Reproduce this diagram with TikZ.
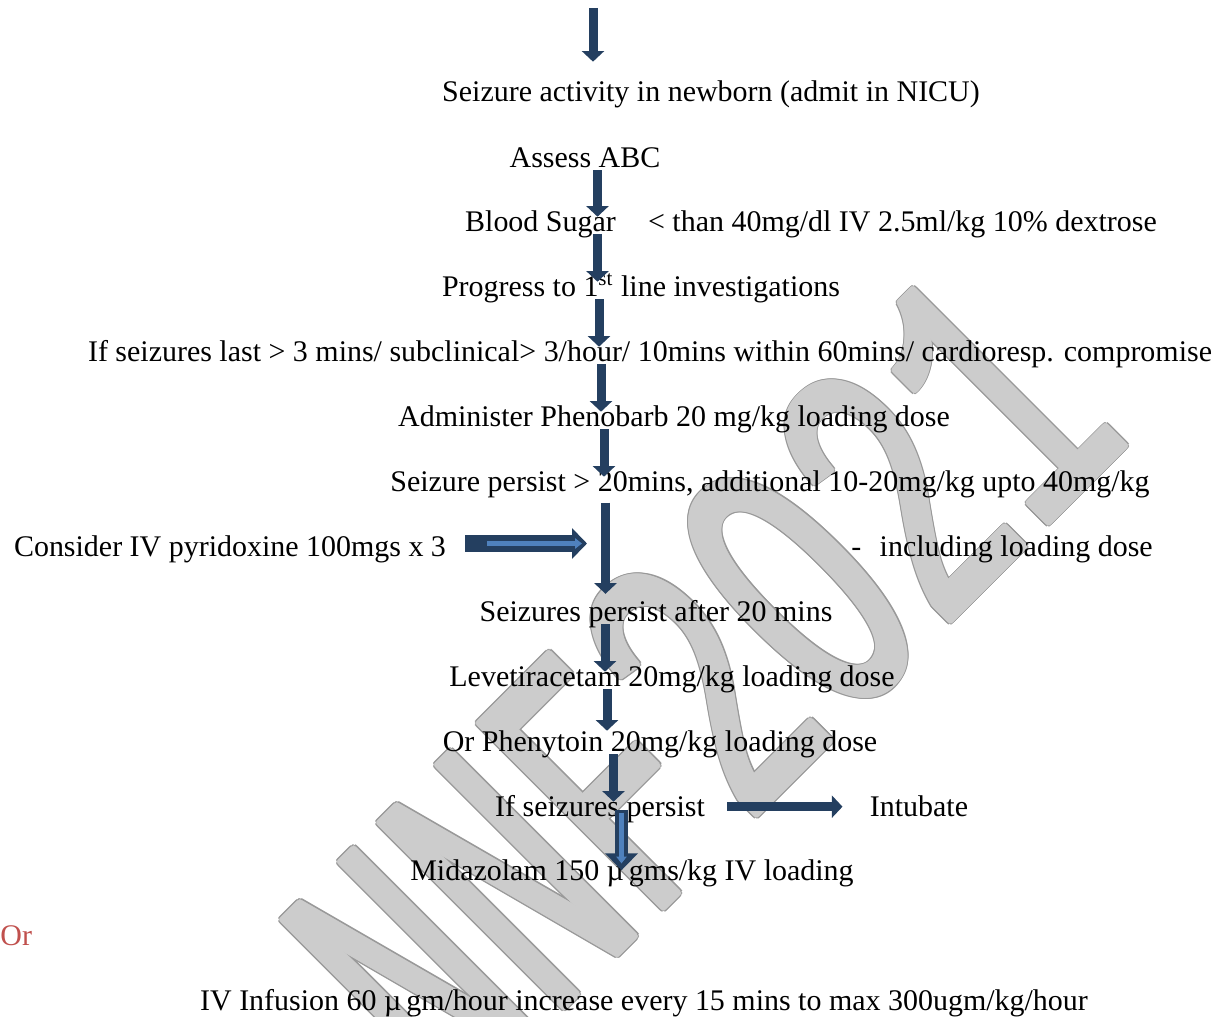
\documentclass[tikz,border=0pt]{standalone}
\usepackage{fontspec}
\setmainfont{Liberation Serif}
\newfontfamily\markfont{Liberation Mono}
\usepackage{graphicx}
\usetikzlibrary{arrows.meta}
\definecolor{arrowblue}{HTML}{243F60}
\definecolor{paleblue}{HTML}{4F81BD}
\definecolor{orred}{HTML}{C0504D}

\begin{document}
\begin{tikzpicture}[x=0.1525mm, y=-0.1525mm,
            txt/.style={inner sep=0pt, text height=0.6em, text depth=0.13em, anchor=base, font=\fontsize{13}{15}\selectfont},
            wmark/.style={anchor=base east, rotate=45, inner sep=0pt, font=\markfont\fontsize{172}{172}\selectfont},
            flow/.style={draw=arrowblue, line width=3.9pt, -{Triangle[width=9.5pt,length=4.6pt]}},
            block/.style={draw=arrowblue, line width=7.4pt, -{Triangle[width=13pt,length=6.5pt]}},
            blockin/.style={draw=paleblue, line width=2.4pt, -{Triangle[width=4.5pt,length=3pt]}}]
            \useasboundingbox (0,0) rectangle (1220,1017);
            \coordinate (markend) at (1134,438);
            \foreach \a in {0,20,...,340}
                \node[wmark, text=black!40, shift={(\a:4.2)}] (markrim\a) at (markend) {\scalebox{0.577}[1]{NNF2O21}};
            \foreach \a in {0,20,...,340}
                \node[wmark, text=black!20, shift={(\a:2.8)}] (markfill\a) at (markend) {\scalebox{0.577}[1]{NNF2O21}};
            \node[wmark, text=black!20] (mark) at (markend) {\scalebox{0.577}[1]{NNF2O21}};

            \node[txt] (seizure) at (711,102) {Seizure activity in newborn (admit in NICU)};
            \node[txt] (assess) at (585,167) {Assess ABC};
            \node[txt] (sugar) at (811,231) {Blood Sugar\hspace{14pt}< than 40mg/dl IV 2.5ml/kg 10\% dextrose};
            \node[txt] (progress) at (641,296) {Progress to 1\textsuperscript{st} line investigations};
            \node[txt] (longer) at (650,361) {If seizures last > 3 mins/ subclinical> 3/hour/ 10mins within 60mins/ cardioresp. compromise};
            \node[txt] (pheno) at (674,426) {Administer Phenobarb 20 mg/kg loading dose};
            \node[txt] (extra) at (770,491) {Seizure persist > 20mins, additional 10-20mg/kg upto 40mg/kg};
            \node[txt] (pyrid) at (230,556) {Consider IV pyridoxine 100mgs x 3};
            \node[txt] (incl) at (1002,556) {-\hspace{8pt}including loading dose};
            \node[txt] (after) at (656,621) {Seizures persist after 20 mins};
            \node[txt] (leve) at (672,686) {Levetiracetam 20mg/kg loading dose};
            \node[txt] (pheny) at (660,751) {Or Phenytoin 20mg/kg loading dose};
            \node[txt] (still) at (600,816) {If seizures persist};
            \node[txt] (intub) at (919,816) {Intubate};
            \node[txt] (midaz) at (632,880) {Midazolam 150 µ\,gms/kg IV loading};
            \node[txt, anchor=base west, text=orred] (or) at (0,945) {Or};
            \node[txt] (infusion) at (644,1010) {IV Infusion 60 µ\,gm/hour increase every 15 mins to max 300ugm/kg/hour};

            \coordinate (entry) at (593,8);
            \draw[flow, shorten >=11.3pt] (entry) -- (entry |- seizure.north);
            \draw[flow] (assess.south -| 597.5,0) -- (sugar.north -| 597.5,0);
            \draw[flow] (sugar.south -| 597.5,0) -- (progress.north -| 597.5,0);
            \draw[flow] (progress.south -| 599,0) -- (longer.north -| 599,0);
            \draw[flow] (longer.south -| 601,0) -- (pheno.north -| 601,0);
            \draw[flow] (pheno.south -| 604,0) -- (extra.north -| 604,0);
            \draw[flow, shorten <=3.5pt, shorten >=5.6pt] (extra.south -| 605.5,0) -- (after.north -| 605.5,0);
            \draw[flow] (after.south -| 605,0) -- (leve.north -| 605,0);
            \draw[flow, shorten >=2.6pt] (leve.south -| 607,0) -- (pheny.north -| 607,0);
            \draw[flow] (pheny.south -| 613.5,0) -- (still.north -| 613.5,0);
            \draw[block, line width=5.6pt, -{Triangle[width=13.9pt,length=7.4pt]}, shorten <=-4.3pt, shorten >=-2pt] (still.south -| 621.5,0) -- (midaz.north -| 621.5,0);
            \draw[blockin, line width=2.2pt, shorten <=-3pt, shorten >=1pt] (still.south -| 621.5,0) -- (midaz.north -| 621.5,0);

            \coordinate (pyridtip) at (587,543.5);
            \draw[block, shorten <=8.2pt] (pyrid.east |- pyridtip) -- (pyridtip);
            \draw[blockin, shorten <=17.7pt, shorten >=2.2pt] (pyrid.east |- pyridtip) -- (pyridtip);
            \draw[flow, shorten <=9.5pt, shorten >=11.7pt] ([yshift=1.7pt]still.east) -- ([yshift=1.7pt]intub.west);
        \end{tikzpicture}
\end{document}
